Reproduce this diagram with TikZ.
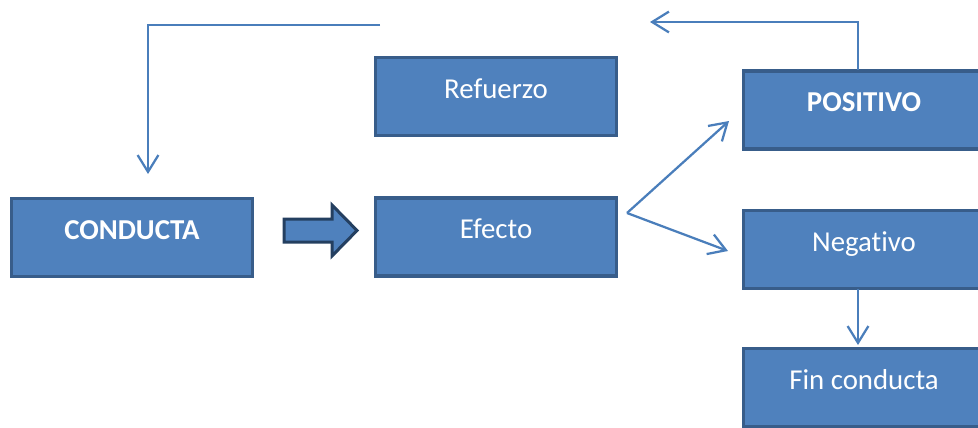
\documentclass[tikz,border=0pt]{standalone}
\usepackage{fontspec}
\setmainfont{Carlito}[Ligatures={NoCommon,NoContextual}]
\usetikzlibrary{arrows.meta,positioning}
\definecolor{boxfill}{HTML}{4F81BD}
\definecolor{boxline}{HTML}{385D8A}
\definecolor{linkcol}{HTML}{4A7EBB}
\definecolor{bigline}{HTML}{243F60}
\begin{document}
\begin{tikzpicture}[x=0.025cm,y=-0.025cm,
    box/.style={draw=boxline,fill=boxfill,line width=0.08cm,text=white,
      minimum width=6.02cm,minimum height=1.945cm,inner sep=0pt,
      text height=0.55cm,text depth=0.47cm,font=\fontsize{20.5}{24}\selectfont},
    link/.style={draw=linkcol,line width=1.6pt,
      -{Straight Barb[length=0.42cm,width=0.52cm,line width=1.6pt]}}]
    \useasboundingbox(0,0)rectangle(978,427);
    \node[box](conducta)at(132,237.5){\textbf{CONDUCTA}};
    \node[box](refuerzo)at(496,96.5){Refuerzo};
    \node[box](efecto)at(496,237){Efecto};
    \node[box](positivo)at(864,110){\textbf{POSITIVO}};
    \node[box](negativo)at(864,249.5){Negativo};
    \node[box](fin)at(864,387.5){Fin conducta};
    % block arrow between conducta and efecto
    \draw[bigline,line width=0.075cm,fill=boxfill,line join=miter]
      (284,219)--(332,219)--(332,205)--(357,230.5)--(332,256)--(332,242)--(284,242)--cycle;
    % links
    \coordinate(topleft)at(380,25);
    \coordinate(corner)at(148,25);
    \coordinate(condin)at(148,174);
    \coordinate(posout)at(858,70);
    \coordinate(turn)at(858,22);
    \coordinate(topright)at(650,22);
    \coordinate(fork)at(627,213);
    \coordinate(posin)at(729,121);
    \coordinate(negin)at(728,251);
    \coordinate(negout)at(858,289);
    \coordinate(finin)at(858,345);
    \draw[link](topleft)--(corner)--(condin);
    \draw[link](posout)--(turn)--(topright);
    \draw[link](fork)--(posin);
    \draw[link](fork)--(negin);
    \draw[link](negout)--(finin);
\end{tikzpicture}
\end{document}
